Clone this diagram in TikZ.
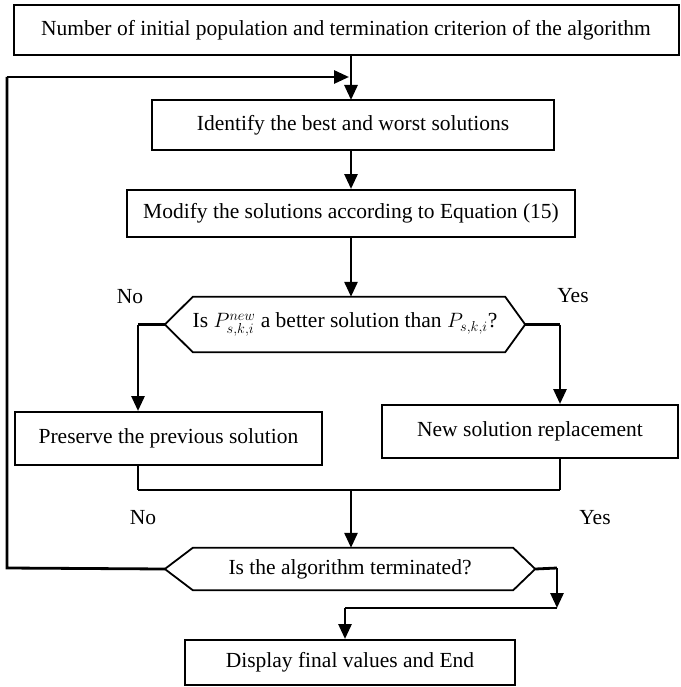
\documentclass[tikz,border=0pt]{standalone}
\usepackage{fontspec}
\setmainfont{Liberation Serif}
\usetikzlibrary{arrows.meta}
\begin{document}
\begin{tikzpicture}[x=1pt,y=-1pt,
  font=\fontsize{21.5}{24}\selectfont,
  box/.style={draw, line width=2pt, inner sep=0pt},
  hexnode/.style={inner sep=0pt},
  hexline/.style={line width=1.8pt},
  arr/.style={line width=2.8pt, -{Triangle[length=15pt,width=13pt]}},
  ln/.style={line width=2.8pt},
  thin/.style={line width=1.6pt},
  lbl/.style={inner sep=0pt}]
\useasboundingbox (0,0) rectangle (680,687);

\node[box, minimum width=665, minimum height=50] (b1) at (346,30) {Number of initial population and termination criterion of the algorithm};
\node[box, minimum width=402, minimum height=50] (b2) at (353,125) {Identify the best and worst solutions};
\node[box, minimum width=448, minimum height=47] (b3) at (351,213.5) {Modify the solutions according to Equation (15)};
\node[hexnode, minimum width=360, minimum height=55] (h1) at (345,324.5) {Is $P_{s,k,i}^{new}$ a better solution than $P_{s,k,i}$?};
\draw[hexline] (h1.west) -- ([xshift=28]h1.north west) -- ([xshift=-20]h1.north east) -- (h1.east)
  -- ([xshift=-20]h1.south east) -- ([xshift=28]h1.south west) -- cycle;
\node[box, minimum width=307, minimum height=53] (b4) at (168.5,438.5) {Preserve the previous solution};
\node[box, minimum width=296, minimum height=53] (b5) at (530,431.5) {New solution replacement};
\node[hexnode, minimum width=370, minimum height=42] (h2) at (350,569) {Is the algorithm terminated?};
\draw[hexline] (h2.west) -- ([xshift=28]h2.north west) -- ([xshift=-22]h2.north east) -- (h2.east)
  -- ([xshift=-22]h2.south east) -- ([xshift=28]h2.south west) -- cycle;
\node[box, minimum width=330, minimum height=45] (b6) at (350,662.5) {Display final values and End};

\node[lbl] (no1) at (130,297) {No};
\node[lbl] (yes1) at (573,296) {Yes};
\node[lbl] (no2) at (143,518) {No};
\node[lbl] (yes2) at (595,518) {Yes};

\coordinate (loopL) at (7,568);
\coordinate (loopT) at (7,77);
\coordinate (loopE) at (349,77);
\coordinate (h1L) at (138,324.5);
\coordinate (h1R) at (560,324.5);
\coordinate (jL) at (138,490);
\coordinate (jR) at (560,490);
\coordinate (jM) at (351,490);
\coordinate (h2R) at (557,568);
\coordinate (h2D) at (557,608);
\coordinate (b6T) at (345,608);

\draw[arr] (b1.south -| 351,0) -- (351,100);
\draw[ln] (h2.west) -- (loopL) -- (loopT);
\draw[arr] (loopT) -- (loopE);
\draw[arr] (b2.south -| 351,0) -- (b3.north -| 351,0);
\draw[arr] (b3.south -| 351,0) -- (h1.north -| 351,0);
\draw[ln] (h1.west) -- (h1L);
\draw[arr] (h1L) -- (b4.north -| h1L);
\draw[ln] (h1.east) -- (h1R);
\draw[arr] (h1R) -- (b5.north -| h1R);
\draw[thin] (b4.south -| jL) -- (jL);
\draw[thin] (b5.south -| jR) -- (jR);
\draw[ln] (jL) -- (jR);
\draw[arr] (jM) -- (h2.north -| jM);
\draw[ln] (h2.east) -- (h2R);
\draw[arr] (h2R) -- (h2D);
\draw[ln] (h2D) -- (b6T);
\draw[arr] (b6T) -- (b6.north -| b6T);
\end{tikzpicture}
\end{document}
